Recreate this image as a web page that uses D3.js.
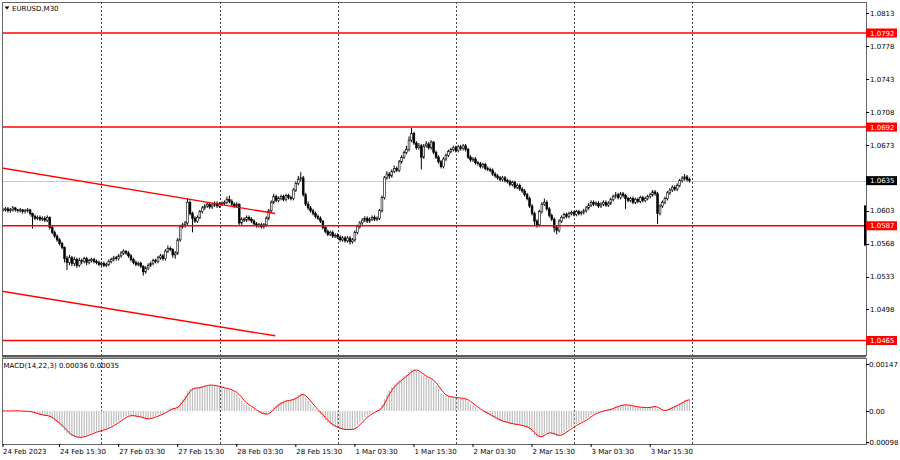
<!DOCTYPE html>
<html><head><meta charset="utf-8">
<script src="https://cdn.jsdelivr.net/npm/d3@7"></script>
<style>
html,body{margin:0;padding:0;background:#fff;}
svg{display:block;font-family:"DejaVu Sans",sans-serif;}
</style></head><body>
<svg id="c" width="900" height="460"></svg>
<script>
// ---------------- DATA ----------------
const symbol = "EURUSD,M30";
const BASE = 1.05;           // prices below are pip offsets from this value
const PIP = 0.0001;
const closes = [
104,105,103,104,106,104,103,104,102,103,104,
100,97,95,96,94,95,93,96,
85,80,76,72,68,64,
52,
48,53,47,51,45,50,49,52,48,50,51,49,
48,46,47,45,46,
49,51,53,52,55,58,60,
58,
55,51,48,46,47,44,
38,42,
45,47,50,49,53,55,52,
60,63,62,
56,58,
72,
86,88,90,
112,
100,95,92,
96,102,106,
108,110,107,109,111,108,110,
111,112,115,113,110,108,110,
90,
94,93,96,94,92,
89,87,88,86,88,
95,103,
112,118,
114,116,118,115,119,117,116,
125,132,136,138,
120,
110,106,103,100,97,95,92,
85,81,78,80,76,77,
75,72,74,71,74,70,
72,
80,86,90,
93,95,92,94,96,94,95,
103,117,
138,142,140,
145,148,146,
155,160,165,168,
178,185,
175,170,172,
160,
172,174,170,176,
165,160,155,150,
158,162,166,
168,170,167,171,169,172,168,
160,157,158,154,153,
150,152,148,147,146,
142,140,138,136,138,135,
134,131,133,128,130,126,
124,120,116,
108,100,
92,88,
102,110,112,
105,98,94,
85,82,
92,96,99,97,
100,101,99,102,100,101,103,
106,109,112,110,111,
108,110,112,109,111,
115,118,120,117,121,119,116,
114,116,112,115,113,117,114,116,118,
120,123,121,
100,
108,112,116,
122,125,128,126,130,
135,137,139,136,135
];
const highs = [
106,107,107,106,108,107,105,106,105,105,106,
105,101,99,98,98,97,97,98,
97,87,82,78,74,70,
65,
55,56,55,54,53,53,52,54,54,52,53,53,
51,50,49,49,48,
51,53,55,55,57,60,62,
61,
60,57,53,50,49,49,
45,44,
47,49,52,52,55,57,57,
62,66,65,
63,60,
74,
88,90,92,
116,
114,102,97,
98,104,108,
110,112,112,111,113,113,112,
113,114,118,119,115,112,112,
111,
96,96,98,98,96,
94,91,90,90,90,
97,105,
114,121,
120,118,120,120,121,121,119,
127,134,140,144,
140,
122,113,108,105,102,99,97,
93,87,83,82,82,79,
79,77,76,76,76,76,
74,
82,88,92,
95,97,97,96,98,98,97,
105,119,
140,145,144,
147,151,150,
157,162,167,172,
182,191,
187,177,175,
174,
174,177,176,178,
177,167,162,157,
160,164,168,
170,172,172,173,173,174,174,
170,162,160,160,156,
155,154,154,150,149,
148,144,142,140,140,140,
137,136,135,135,132,132,
128,126,122,
118,110,
102,94,
104,112,116,
114,107,100,
96,87,
94,98,101,101,
102,103,103,104,104,103,105,
108,111,114,114,113,
113,112,114,114,113,
117,120,123,122,123,123,121,
118,118,118,117,117,119,119,118,120,
122,125,125,
123,
110,114,118,
124,127,130,130,132,
137,140,142,141,138
];
const lows = [
102,102,101,101,102,102,101,101,100,100,101,
98,84,93,93,92,92,91,91,
83,78,74,70,66,62,
48,
40,45,44,44,42,43,46,47,45,46,48,47,
46,44,44,43,43,
44,47,49,50,50,53,56,
56,
53,49,46,44,44,42,
34,36,
40,43,45,47,47,51,50,
50,58,60,
53,52,
56,
70,84,85,
88,
98,80,90,
90,94,100,
104,106,105,105,107,106,106,
108,109,110,111,108,106,106,
88,
88,91,91,92,90,
87,85,85,84,84,
86,93,
101,110,
112,112,114,113,113,115,114,
114,123,130,134,
118,
108,104,101,98,95,93,90,
83,79,76,76,74,74,
73,70,70,69,69,67,
68,
70,78,84,
88,91,90,90,92,92,92,
93,101,
115,136,137,
138,143,144,
144,153,158,163,
166,176,
173,168,168,
147,
158,170,168,168,
163,158,153,148,
148,156,160,
164,166,165,165,167,167,166,
158,155,155,152,151,
148,148,146,145,144,
140,138,136,134,134,133,
132,129,129,126,126,124,
122,118,114,
106,98,
88,85,
86,100,108,
103,96,92,
80,78,
80,90,94,95,
95,98,97,97,98,98,99,
101,104,107,108,108,
106,106,108,107,107,
109,113,116,115,115,117,105,
112,112,110,110,111,111,112,112,114,
116,118,119,
89,
98,106,110,
114,120,123,124,124,
128,133,135,134,133
];
const firstOpen = 104;
const dayStartBars = [40, 88, 136, 184, 232, 280];
const timeLabels = ["24 Feb 2023","24 Feb 15:30","27 Feb 03:30","27 Feb 15:30","28 Feb 03:30","28 Feb 15:30",
                    "1 Mar 03:30","1 Mar 15:30","2 Mar 03:30","2 Mar 15:30","3 Mar 03:30","3 Mar 15:30"];
const timeLabelBars = [-1, 23, 47, 71, 95, 119, 143, 167, 191, 215, 239, 263];
const priceTicks = [1.0813,1.0778,1.0743,1.0708,1.0673,1.0638,1.0603,1.0568,1.0533,1.0498];
const levels = [1.0792,1.0692,1.0587,1.0465];
const bidPrice = 1.0635;
const trendLines = [
  {b1:-1.2, p1:1.06488, b2:110.6, p2:1.06000},
  {b1:-1.2, p1:1.05178, b2:110.6, p2:1.04700}
];
const macdFast = 14, macdSlow = 22, macdSignal = 3;
const macdTicks = [0.00147, 0, -0.00098];
const macdTickLabels = ["0.00147","0.00","-0.00098"];
const macdLabel = "MACD(14,22,3) 0.00036 0.00035";

// ---------------- BUILD ----------------
const bars = closes.map((c,i)=>({
  i,
  o: BASE + (i===0 ? firstOpen : closes[i-1]) * PIP,
  c: BASE + c*PIP,
  h: BASE + highs[i]*PIP,
  l: BASE + lows[i]*PIP
}));

function ema(arr, n){
  const a = 2/(n+1); let e = arr[0];
  return arr.map((v,i)=> (e = i ? a*v + (1-a)*e : v));
}
const cp = bars.map(d=>d.c);
const ef = ema(cp, macdFast), es = ema(cp, macdSlow);
const macdMain = ef.map((v,i)=> v - es[i]);
const macdSig = macdMain.map((v,i)=>{
  const s = macdMain.slice(Math.max(0,i-macdSignal+1), i+1);
  return d3.mean(s);
});

const svg = d3.select("#c");
const main = {l:2, t:2, r:866, b:355};
const sub  = {l:2, t:358, r:866, b:444};

const x  = d3.scaleLinear().domain([0, closes.length]).range([3, 692]);
const y  = d3.scaleLinear().domain([1.0465, 1.0792]).range([340.5, 33]);
const yM = d3.scaleLinear().domain([-0.00098, 0.00147]).range([442.3, 364]);

svg.append("rect").attr("width",900).attr("height",460).attr("fill","#fff");

const defs = svg.append("defs");
defs.append("clipPath").attr("id","cm").append("rect")
  .attr("x",main.l).attr("y",main.t).attr("width",main.r-main.l).attr("height",main.b-main.t);
defs.append("clipPath").attr("id","cs").append("rect")
  .attr("x",sub.l).attr("y",sub.t).attr("width",sub.r-sub.l).attr("height",sub.b-sub.t);

// vertical dotted grid (day separators)
const gGrid = svg.append("g");
[[main.t, main.b],[sub.t, sub.b]].forEach(([t,b])=>{
  gGrid.selectAll(null).data(dayStartBars).enter().append("line")
    .attr("x1",d=>Math.round(x(d))+0.5).attr("x2",d=>Math.round(x(d))+0.5)
    .attr("y1",t).attr("y2",b)
    .attr("stroke","#444").attr("stroke-width",1).attr("stroke-dasharray","2,2");
});

// main pane
const gm = svg.append("g").attr("clip-path","url(#cm)");
gm.append("line").attr("x1",main.l).attr("x2",main.r)
  .attr("y1",Math.round(y(bidPrice))+0.5).attr("y2",Math.round(y(bidPrice))+0.5)
  .attr("stroke","#c8c8c8").attr("stroke-width",1);

const bw = 1.8;
const cg = gm.append("g");
cg.selectAll("line.w").data(bars).enter().append("line")
  .attr("x1",d=>x(d.i)).attr("x2",d=>x(d.i))
  .attr("y1",d=>y(d.h)).attr("y2",d=>y(d.l))
  .attr("stroke","#000").attr("stroke-width",1);
cg.selectAll("rect.b").data(bars).enter().append("rect")
  .attr("x",d=>x(d.i)-bw/2).attr("width",bw)
  .attr("y",d=>y(Math.max(d.o,d.c)))
  .attr("height",d=>Math.max(0.8, Math.abs(y(d.o)-y(d.c))))
  .attr("fill",d=>d.c>=d.o ? "#fff" : "#000")
  .attr("stroke","#000").attr("stroke-width",0.6);

gm.selectAll("line.tl").data(trendLines).enter().append("line")
  .attr("x1",d=>x(d.b1)).attr("y1",d=>y(d.p1))
  .attr("x2",d=>x(d.b2)).attr("y2",d=>y(d.p2))
  .attr("stroke","#ff0000").attr("stroke-width",1.4);

gm.selectAll("line.lv").data(levels).enter().append("line")
  .attr("x1",main.l).attr("x2",main.r)
  .attr("y1",d=>y(d)).attr("y2",d=>y(d))
  .attr("stroke","#ff0000").attr("stroke-width",1.4);

// black marker on right edge
svg.append("rect").attr("x",main.r-2).attr("y",y(1.0630)+20).attr("width",2.2)
  .attr("height",y(1.0568)-y(1.0630)-18).attr("fill","#000");

// MACD pane
const gs = svg.append("g").attr("clip-path","url(#cs)");
gs.selectAll("line.h").data(macdMain).enter().append("line")
  .attr("x1",(d,i)=>x(i)).attr("x2",(d,i)=>x(i))
  .attr("y1",yM(0)).attr("y2",d=>yM(d))
  .attr("stroke","#bdbdbd").attr("stroke-width",1.2);
gs.append("path").datum(macdSig)
  .attr("d", d3.line().x((d,i)=>x(i)).y(d=>yM(d)))
  .attr("fill","none").attr("stroke","#ff0000").attr("stroke-width",1);

// frames
svg.append("rect").attr("x",main.l+0.5).attr("y",main.t+0.5)
  .attr("width",main.r-main.l).attr("height",main.b-main.t)
  .attr("fill","none").attr("stroke","#666");
svg.append("rect").attr("x",sub.l+0.5).attr("y",sub.t+0.5)
  .attr("width",sub.r-sub.l).attr("height",sub.b-sub.t)
  .attr("fill","none").attr("stroke","#666");
svg.append("line").attr("x1",main.l).attr("x2",main.r).attr("y1",356.5).attr("y2",356.5)
  .attr("stroke","#555").attr("stroke-width",2);

// price axis (labels hidden behind the bid tag are skipped, as the terminal does)
const fs = 7;
const ax = svg.append("g").attr("font-size",fs).attr("fill","#000");
ax.selectAll("line.t").data(priceTicks).enter().append("line")
  .attr("x1",main.r).attr("x2",main.r+3).attr("y1",d=>Math.round(y(d))+0.5).attr("y2",d=>Math.round(y(d))+0.5)
  .attr("stroke","#000");
const visibleTicks = priceTicks.filter(p=>Math.abs(y(p)-y(bidPrice))>8);
ax.selectAll("text.p").data(visibleTicks).enter().append("text")
  .attr("x",main.r+4).attr("y",d=>y(d)+2.6).text(d=>d.toFixed(4));

function tag(price, color){
  const g = svg.append("g");
  g.append("rect").attr("x",main.r).attr("y",y(price)-4.5).attr("width",31).attr("height",9).attr("fill",color);
  g.append("text").attr("x",main.r+4).attr("y",y(price)+2.6).attr("font-size",fs)
    .attr("fill","#fff").text(price.toFixed(4));
}
levels.forEach(p=>tag(p,"#ff0000"));
tag(bidPrice,"#000");

// MACD axis
const mx = svg.append("g").attr("font-size",fs);
mx.selectAll("line").data(macdTicks).enter().append("line")
  .attr("x1",sub.r).attr("x2",sub.r+3).attr("y1",d=>Math.round(yM(d))+0.5).attr("y2",d=>Math.round(yM(d))+0.5)
  .attr("stroke","#000");
mx.selectAll("text").data(macdTicks).enter().append("text")
  .attr("x",d=>d<0 ? sub.r+1 : sub.r+3).attr("y",d=>yM(d)+2.6).text((d,i)=>macdTickLabels[i]);

// time axis
const tx = svg.append("g").attr("font-size",fs);
tx.selectAll("line").data(timeLabelBars).enter().append("line")
  .attr("x1",d=>Math.max(sub.l+1, x(d))).attr("x2",d=>Math.max(sub.l+1, x(d)))
  .attr("y1",sub.b).attr("y2",sub.b+3).attr("stroke","#000");
tx.selectAll("text").data(timeLabels).enter().append("text")
  .attr("x",(d,i)=>Math.max(sub.l+1, x(timeLabelBars[i])+0.5)).attr("y",454).text(d=>d);

// headers
svg.append("path").attr("d","M4.5,6.5 L9.5,6.5 L7,9.5 Z").attr("fill","#000");
svg.append("text").attr("x",12).attr("y",11).attr("font-size",fs).text(symbol);
svg.append("text").attr("x",3.5).attr("y",367.5).attr("font-size",fs).text(macdLabel);
</script>
</body></html>
